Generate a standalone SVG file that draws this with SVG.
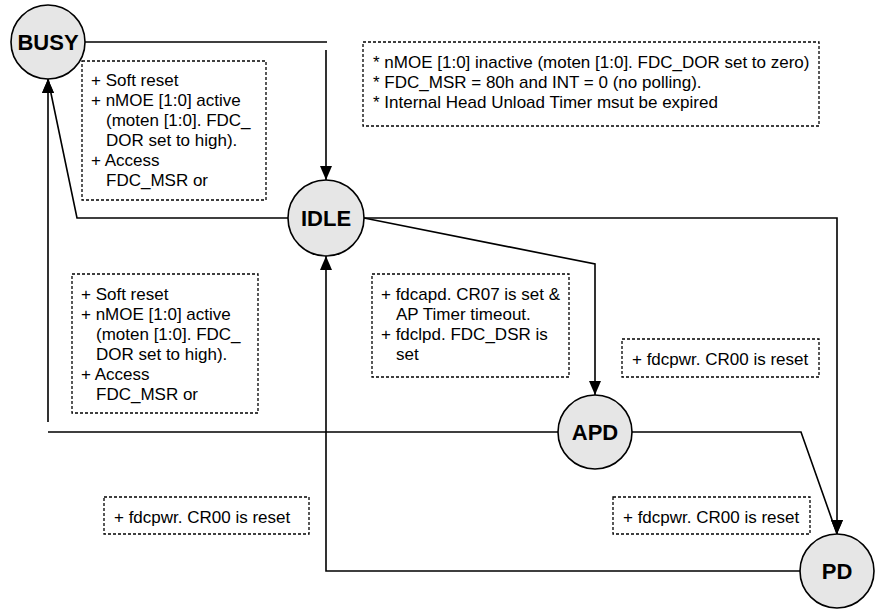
<svg xmlns="http://www.w3.org/2000/svg" width="884" height="609" viewBox="0 0 884 609">
<style>
.node circle{fill:#e6e6e6;stroke:#000;stroke-width:1.6}
.node text{font-family:"Liberation Sans",Arial,Helvetica,sans-serif;font-weight:bold;font-size:22px;text-anchor:middle;fill:#000}
.conn path{fill:none;stroke:#000;stroke-width:1.6}
.lbl rect{fill:#fff;stroke:#000;stroke-width:1.3;stroke-dasharray:3 2}
.lbl text{font-family:"Liberation Sans",Arial,Helvetica,sans-serif;font-size:17px;fill:#000}
</style>
<defs>
<marker id="arrUp" markerUnits="userSpaceOnUse" markerWidth="14" markerHeight="12" viewBox="0 0 14 12" refX="14" refY="6" orient="270">
<path d="M0,0 L14,6 L0,12 z" fill="#000"/>
</marker>
<marker id="arrDown" markerUnits="userSpaceOnUse" markerWidth="14" markerHeight="12" viewBox="0 0 14 12" refX="14" refY="6" orient="90">
<path d="M0,0 L14,6 L0,12 z" fill="#000"/>
</marker>
</defs>
<rect width="884" height="609" fill="#fff"/>
<g class="conn" id="connectors">
<path d="M85,42 H327 M326,50 V180" marker-end="url(#arrDown)"/>
<path d="M288,218 H77 L48,79" marker-end="url(#arrUp)"/>
<path d="M558,432 H48 M48,422 V79" marker-end="url(#arrUp)"/>
<path d="M364,218 L595,264 V395" marker-end="url(#arrDown)"/>
<path d="M364,218 H837 V534" marker-end="url(#arrDown)"/>
<path d="M632,432 H801 L837,534" marker-end="url(#arrDown)"/>
<path d="M800,571 H326 V256" marker-end="url(#arrUp)"/>
</g>
<g class="lbl" id="label-busy-idle">
<rect x="82" y="61" width="184" height="139"/>
<text x="91" y="86">+ Soft reset</text>
<text x="91" y="106">+ nMOE [1:0] active</text>
<text x="106" y="126">(moten [1:0]. FDC_</text>
<text x="106" y="146">DOR set to high).</text>
<text x="91" y="166">+ Access</text>
<text x="106" y="186">FDC_MSR or</text>
</g>
<g class="lbl" id="label-idle-cond">
<rect x="363" y="42" width="456" height="84"/>
<text x="373" y="68">* nMOE [1:0] inactive (moten [1:0]. FDC_DOR set to zero)</text>
<text x="373" y="88">* FDC_MSR = 80h and INT = 0 (no polling).</text>
<text x="373" y="108">* Internal Head Unload Timer msut be expired</text>
</g>
<g class="lbl" id="label-apd-busy">
<rect x="72" y="274" width="186" height="139"/>
<text x="81" y="300">+ Soft reset</text>
<text x="81" y="320">+ nMOE [1:0] active</text>
<text x="96" y="340">(moten [1:0]. FDC_</text>
<text x="96" y="360">DOR set to high).</text>
<text x="81" y="380">+ Access</text>
<text x="96" y="400">FDC_MSR or</text>
</g>
<g class="lbl" id="label-idle-apd">
<rect x="372" y="274" width="197" height="103"/>
<text x="381" y="300">+ fdcapd. CR07 is set &amp;</text>
<text x="396" y="320">AP Timer timeout.</text>
<text x="381" y="340">+ fdclpd. FDC_DSR is</text>
<text x="396" y="360">set</text>
</g>
<g class="lbl" id="label-idle-pd">
<rect x="622" y="339" width="197" height="38"/>
<text x="632" y="365">+ fdcpwr. CR00 is reset</text>
</g>
<g class="lbl" id="label-apd-pd">
<rect x="613" y="497" width="197" height="37"/>
<text x="623" y="523">+ fdcpwr. CR00 is reset</text>
</g>
<g class="lbl" id="label-pd-idle">
<rect x="104" y="497" width="205" height="37"/>
<text x="114" y="523">+ fdcpwr. CR00 is reset</text>
</g>
<g class="node" id="node-busy">
<circle cx="48" cy="42" r="37"/>
<text x="48" y="50">BUSY</text>
</g>
<g class="node" id="node-idle">
<circle cx="326" cy="218" r="38"/>
<text x="326" y="226">IDLE</text>
</g>
<g class="node" id="node-apd">
<circle cx="595" cy="432" r="37"/>
<text x="595" y="440">APD</text>
</g>
<g class="node" id="node-pd">
<circle cx="837" cy="571" r="37"/>
<text x="837" y="579">PD</text>
</g>
</svg>
